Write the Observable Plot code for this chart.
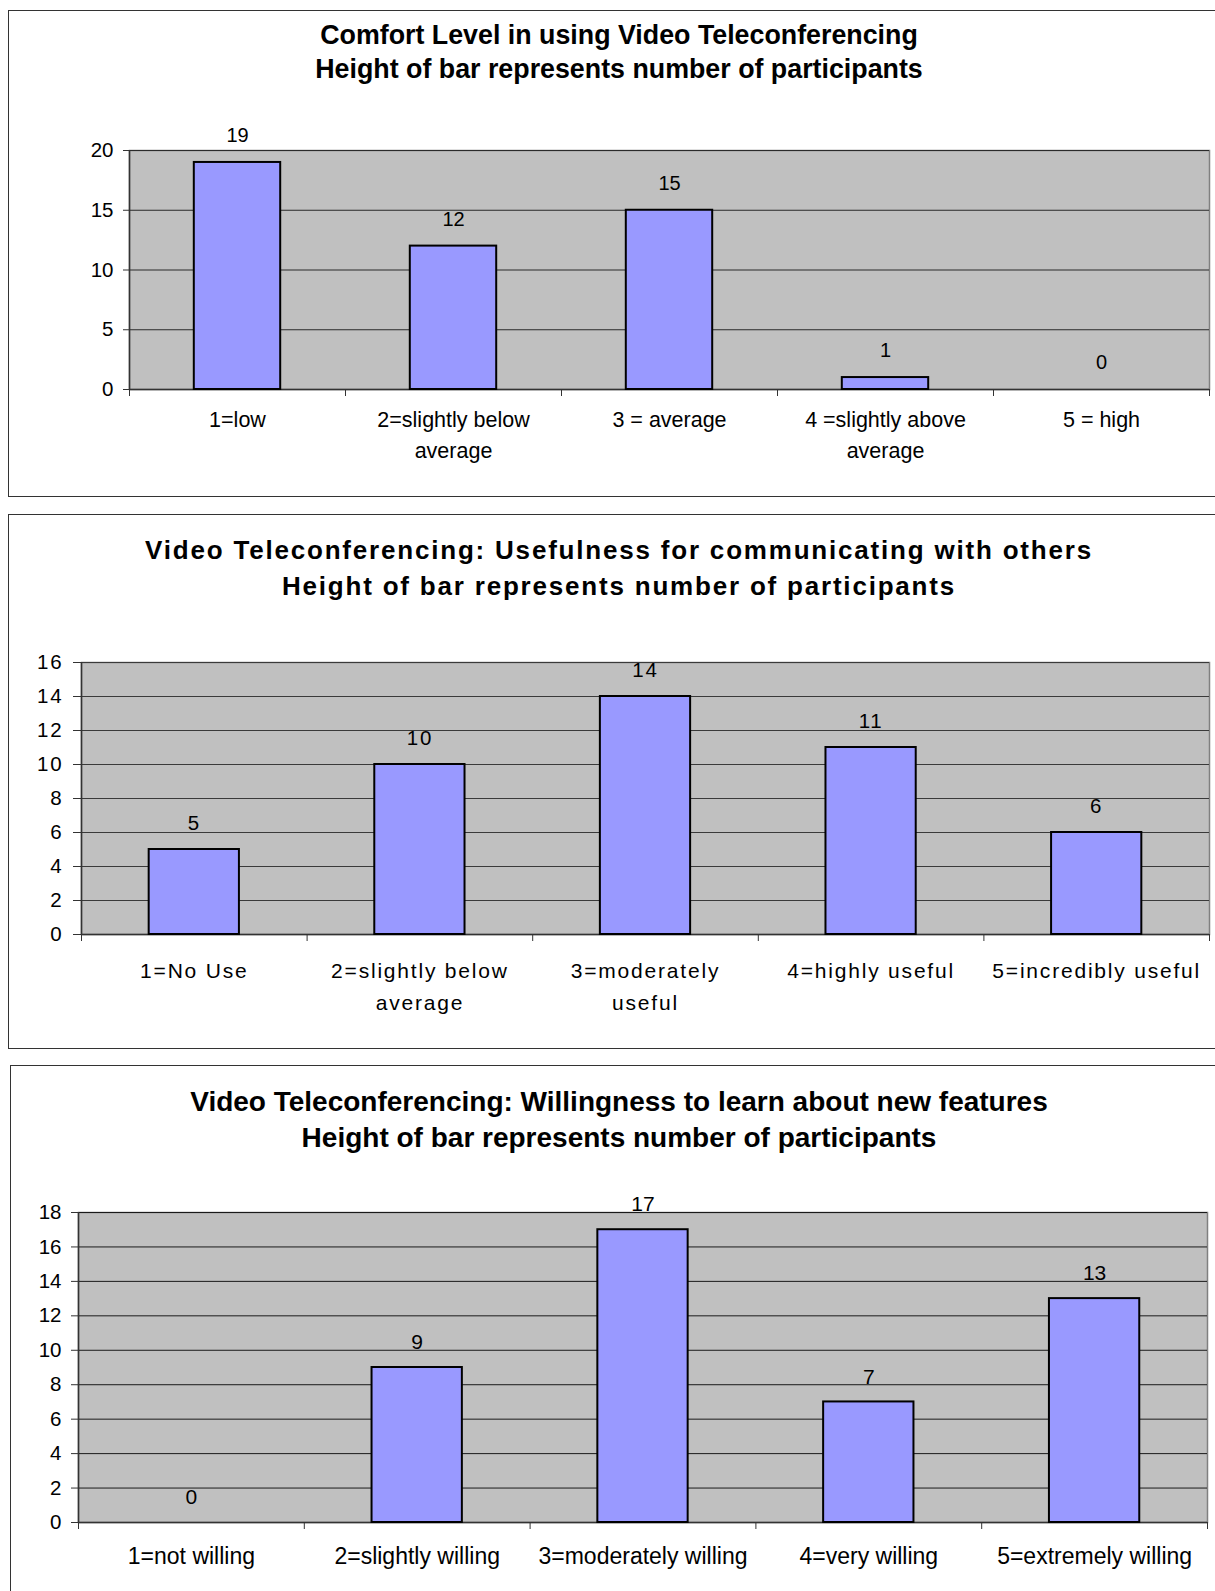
<!DOCTYPE html>
<html>
<head>
<meta charset="utf-8">
<script src="https://cdn.jsdelivr.net/npm/d3@7"></script>
<script src="https://cdn.jsdelivr.net/npm/@observablehq/plot@0.6"></script>
<style>
  body { margin: 0; background: #fff; font-family: "Liberation Sans", Arial, sans-serif; }
  #page { position: relative; width: 1215px; height: 1591px; overflow: hidden; background: #fff; }
  .box { position: absolute; width: 1240px; border: 1.5px solid #333; box-sizing: border-box; }
  .title { position: absolute; left: 8px; width: 1222px; text-align: center; font-weight: bold;
           color: #000; white-space: nowrap; }
  .chart { position: absolute; left: 0; }
</style>
</head>
<body>
<div id="page"></div>
<script>
// Survey results: number of participants per rating, three questions about video teleconferencing.

const comfortTitle = ["Comfort Level in using Video Teleconferencing", "Height of bar represents number of participants"];
const comfortLabels = ["1=low", "2=slightly below\naverage", "3 = average", "4 =slightly above\naverage", "5 = high"];
const comfortCounts = [19, 12, 15, 1, 0];
const comfortTicks = [0, 5, 10, 15, 20];

const usefulTitle = ["Video Teleconferencing: Usefulness for communicating with others", "Height of bar represents number of participants"];
const usefulLabels = ["1=No Use", "2=slightly below\naverage", "3=moderately\nuseful", "4=highly useful", "5=incredibly useful"];
const usefulCounts = [5, 10, 14, 11, 6];
const usefulTicks = [0, 2, 4, 6, 8, 10, 12, 14, 16];

const willingTitle = ["Video Teleconferencing: Willingness to learn about new features", "Height of bar represents number of participants"];
const willingLabels = ["1=not willing", "2=slightly willing", "3=moderately willing", "4=very willing", "5=extremely willing"];
const willingCounts = [0, 9, 17, 7, 13];
const willingTicks = [0, 2, 4, 6, 8, 10, 12, 14, 16, 18];

const page = document.getElementById("page");

function panel(o) {
  const box = document.createElement("div");
  box.className = "box";
  box.style.left = o.boxLeft + "px";
  box.style.top = o.top + "px";
  box.style.height = o.boxHeight + "px";
  page.appendChild(box);

  const t = document.createElement("div");
  t.className = "title";
  t.style.top = o.titleTop + "px";
  t.style.fontSize = o.titleSize + "px";
  t.style.lineHeight = o.titleLine + "px";
  t.style.letterSpacing = o.letterSpacing;
  t.innerHTML = o.title.join("<br>");
  page.appendChild(t);

  const rows = o.counts.map((count, k) => ({i: k + 1, count}));
  const centers = rows.map(d => d.i);
  const bounds = [0, ...centers].map(c => c + 0.5);
  const yMax = o.ticks[o.ticks.length - 1];

  const svg = Plot.plot({
    width: 1215,
    height: o.svgHeight,
    marginTop: o.marginTop, marginBottom: o.marginBottom,
    marginLeft: o.marginLeft, marginRight: o.marginRight,
    style: {fontFamily: "'Liberation Sans', Arial, sans-serif", fontSize: "20px", color: "#000",
            background: "transparent", overflow: "visible", letterSpacing: o.letterSpacing},
    x: {domain: [0.5, rows.length + 0.5], axis: null},
    y: {domain: [0, yMax], axis: null},
    marks: [
      Plot.frame({fill: "#c0c0c0", stroke: "#808080", strokeWidth: 1.5}),
      Plot.gridY(o.ticks, {stroke: o.gridColor, strokeOpacity: 1, strokeWidth: 1}),
      Plot.ruleX([0.5], {stroke: "#333", strokeWidth: 1.5}),
      Plot.ruleY([0], {stroke: "#333", strokeWidth: 1.5}),
      Plot.axisY(o.ticks, {tickSize: o.yTickSize, tickPadding: 10, fontSize: o.tickSize, label: null, stroke: "#333"}),
      Plot.axisX(bounds, {tickSize: 7, tickFormat: () => "", label: null, stroke: "#333"}),
      Plot.axisX(centers, {tickSize: 0, tickPadding: o.catPadding, tickFormat: i => o.labels[i - 1],
                           fontSize: o.catSize, lineHeight: o.catLine, label: null}),
      Plot.rectY(rows.filter(d => d.count > 0), {
        x1: d => d.i - 0.2, x2: d => d.i + 0.2, y: "count",
        fill: "#9999ff", stroke: "#000", strokeWidth: 2
      }),
      Plot.text(rows, {x: "i", y: "count", text: d => String(d.count), dy: o.labelDy,
                       fontSize: o.valueSize, fill: "#000"})
    ]
  });
  svg.classList.add("chart");
  svg.style.top = o.top + "px";
  svg.style.left = "0px";
  svg.style.position = "absolute";
  page.appendChild(svg);
}

panel({title: comfortTitle, labels: comfortLabels, counts: comfortCounts, ticks: comfortTicks,
       boxLeft: 8, top: 10, boxHeight: 487, svgHeight: 486,
       titleTop: 18, titleSize: 26.8, titleLine: 34,
       marginTop: 140, marginBottom: 107, marginLeft: 129, marginRight: 6,
       yTickSize: 6, tickSize: 20.5, catSize: 21.5, catPadding: 16, catLine: 1.42,
       valueSize: 20, labelDy: -27, gridColor: "#2a2a2a", letterSpacing: "0px"});

panel({title: usefulTitle, labels: usefulLabels, counts: usefulCounts, ticks: usefulTicks,
       boxLeft: 8, top: 514, boxHeight: 535, svgHeight: 533,
       titleTop: 532, titleSize: 26, titleLine: 36,
       marginTop: 148, marginBottom: 113, marginLeft: 81, marginRight: 6,
       yTickSize: 8, tickSize: 20.5, catSize: 21, catPadding: 20, catLine: 1.55,
       valueSize: 20.5, labelDy: -26, gridColor: "#3a3a3a", letterSpacing: "1.8px"});

panel({title: willingTitle, labels: willingLabels, counts: willingCounts, ticks: willingTicks,
       boxLeft: 10, top: 1065, boxHeight: 600, svgHeight: 526,
       titleTop: 1084, titleSize: 28, titleLine: 36,
       marginTop: 147, marginBottom: 69, marginLeft: 78, marginRight: 8,
       yTickSize: 7, tickSize: 20.5, catSize: 23, catPadding: 19, catLine: 1.4,
       valueSize: 21, labelDy: -25, gridColor: "#1a1a1a", letterSpacing: "0px"});
</script>
</body>
</html>
